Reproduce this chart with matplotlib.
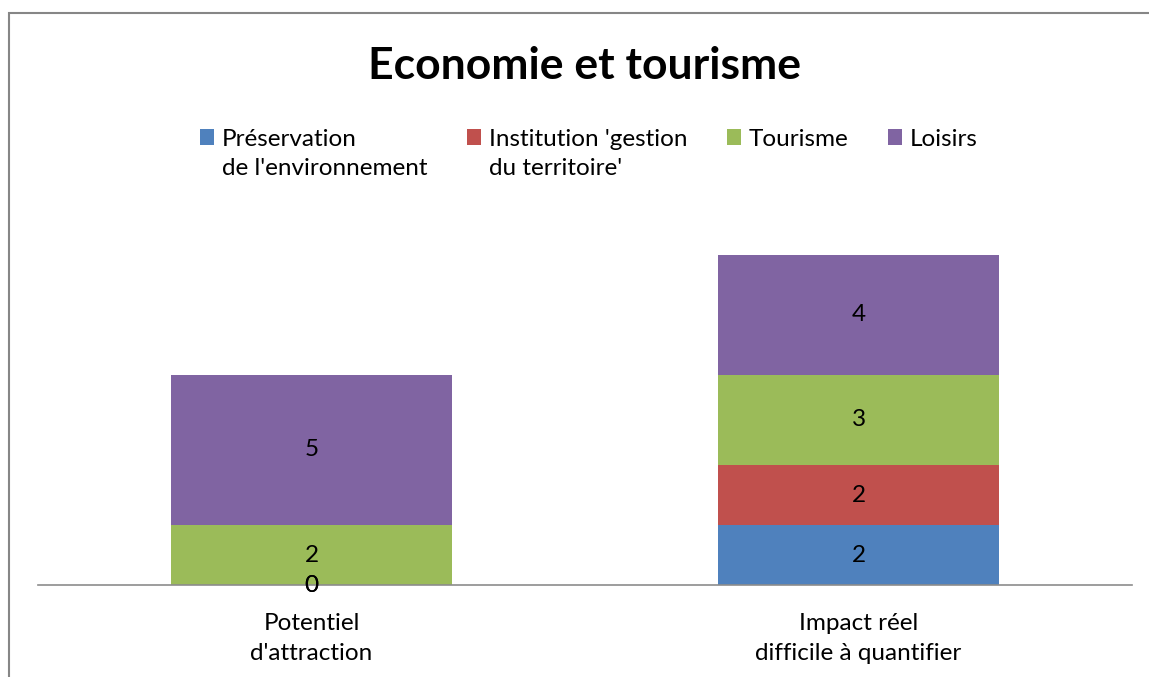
"""Stacked bar chart: Economie et tourisme."""
import matplotlib
matplotlib.use("Agg")
import matplotlib.pyplot as plt
from matplotlib.patches import Rectangle
import numpy as np

# Data
categories = ["Potentiel\nd'attraction", "Impact réel\ndifficile à quantifier"]
series_names = ["Préservation\nde l'environnement",
                "Institution 'gestion\ndu territoire'",
                "Tourisme\n ",
                "Loisirs\n "]
preservation = [0, 2]
institution = [0, 2]
tourisme = [2, 3]
loisirs = [5, 4]
series_values = [preservation, institution, tourisme, loisirs]
colors = ["#4F81BD", "#C0504D", "#9BBB59", "#8064A2"]

W, H = 1149, 677
fs = 17.5
plt.rcParams["font.family"] = ["Lato", "DejaVu Sans"]
fig = plt.figure(figsize=(W / 100, H / 100), dpi=100)

# Chart border (partly cut off at right and bottom, as in the reference)
fig.patches.append(Rectangle((9 / W, -0.1), 1.2, (H - 13) / H + 0.1,
                             transform=fig.transFigure, fill=False,
                             edgecolor="#868686", linewidth=1.5))

ax = fig.add_axes([38 / W, (H - 585) / H, (1132 - 38) / W, 360 / H])
x = np.arange(len(categories))
bottom = np.zeros(len(categories))
containers = []
for name, vals, col in zip(series_names, series_values, colors):
    bc = ax.bar(x, vals, width=0.514, bottom=bottom, color=col, label=name)
    ax.bar_label(bc, label_type="center", fontsize=fs)
    containers.append(bc)
    bottom += np.array(vals)

ax.set_xlim(-0.5, 1.5)
ax.set_ylim(0, 12)
ax.set_yticks([])
ax.set_xticks(x)
ax.set_xticklabels(categories, fontsize=fs, linespacing=1.53)
ax.tick_params(axis="x", length=0, pad=20)
for s in ["top", "right", "left"]:
    ax.spines[s].set_visible(False)
ax.spines["bottom"].set_color("#8c8c8c")
ax.spines["bottom"].set_linewidth(1.2)

fig.text(585 / W, (H - 66) / H, "Economie et tourisme", ha="center",
         va="center", fontsize=32, fontweight="bold")

leg = fig.legend(handles=containers, labels=series_names, ncol=4,
                 loc="upper left", bbox_to_anchor=(188 / W, (H - 117) / H),
                 frameon=False, fontsize=fs, handlelength=0.58,
                 handleheight=0.58, handletextpad=0.3, columnspacing=1.65,
                 borderpad=0)
for t in leg.get_texts():
    t.set_linespacing(1.48)

# Put the legend squares beside the first line of each label
fig.canvas.draw()
r = fig.canvas.get_renderer()
h2 = leg.get_texts()[0].get_window_extent(r).height
t1 = fig.text(0, 0, "Tourisme", fontsize=fs)
h1 = t1.get_window_extent(r).height
t1.remove()
shift = (h2 - h1 - 12) * 72 / fig.dpi
for hd in leg.legend_handles:
    hd.set_y(hd.get_y() + shift)

fig.savefig("out.png", dpi=100)
